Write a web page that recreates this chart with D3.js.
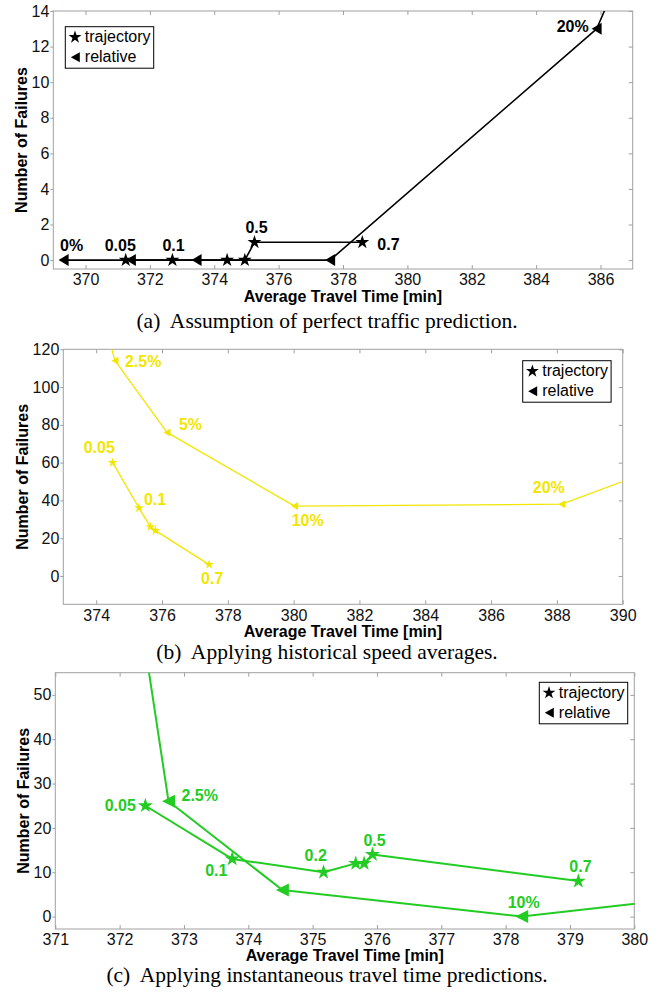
<!DOCTYPE html>
<html>
<head>
<meta charset="utf-8">
<script src="https://cdn.jsdelivr.net/npm/d3@7"></script>
<style>
  body { margin: 0; background: #fff; }
  text { font-family: "Liberation Sans", Arial, sans-serif; }
</style>
</head>
<body>
<div id="chart"></div>
<script>
(function() {

  // (a) perfect traffic prediction
  var aTrajX = [371.25, 372.7, 374.4, 374.95, 375.25, 378.6],
      aTrajY = [0, 0, 0, 0, 1, 1],
      aTrajLbl = ['0.05', '0.1', '', '', '0.5', '0.7'];
  var aRelX = [369.32, 371.41, 373.45, 377.6, 385.88, 386.6],
      aRelY = [0, 0, 0, 0, 13, 16],
      aRelLbl = ['0%', '', '', '', '20%', ''];
  var aXTicks = [370, 372, 374, 376, 378, 380, 382, 384, 386],
      aYTicks = [0, 2, 4, 6, 8, 10, 12, 14];

  // (b) historical speed averages
  var bTrajX = [374.5, 375.3, 375.65, 375.8, 377.43],
      bTrajY = [60, 36, 26, 24, 6],
      bTrajLbl = ['0.05', '0.1', '', '', '0.7'];
  var bRelX = [374.3, 374.57, 376.15, 380.03, 388.15, 392],
      bRelY = [131, 114, 76, 37, 38, 63],
      bRelLbl = ['', '2.5%', '5%', '10%', '20%', ''];
  var bXTicks = [374, 376, 378, 380, 382, 384, 386, 388, 390],
      bYTicks = [0, 20, 40, 60, 80, 100, 120];

  // (c) instantaneous travel time predictions
  var cTrajX = [372.4, 373.75, 375.17, 375.67, 375.8, 375.93, 379.13],
      cTrajY = [25, 13, 10, 12, 12, 14, 8],
      cTrajLbl = ['0.05', '0.1', '0.2', '', '', '0.5', '0.7'];
  var cRelX = [372.3, 372.76, 374.53, 378.25, 381],
      cRelY = [70, 26, 6, 0, 4.5],
      cRelLbl = ['', '2.5%', '', '10%', ''];
  var cXTicks = [371, 372, 373, 374, 375, 376, 377, 378, 379, 380],
      cYTicks = [0, 10, 20, 30, 40, 50];

  var legendNames = ['trajectory', 'relative'];

  var panels = [
    {
      id: 'a', l: 53.3, t: 11, r: 632.7, b: 269,
      xDom: [369, 387], yDom: [-0.5, 14], xTicks: aXTicks, yTicks: aYTicks,
      traj: zip(aTrajX, aTrajY, aTrajLbl), rel: zip(aRelX, aRelY, aRelLbl),
      color: '#000', lw: 1.6, starSize: 60, tri: [5, 6],
      lblPos: {'0%': [-3.6, -9], '0.05': [-21, -9], '0.1': [-10, -9], '0.5': [-9, -9],
               '0.7': [15, 7.7], '20%': [-40, 3]},
      legend: [65.3, 26.7], ylabX: 26.5, xlabY: 302,
      caption: '(a)  Assumption of perfect traffic prediction.', capY: 328
    },
    {
      id: 'b', l: 63.3, t: 349.3, r: 622.7, b: 604.3,
      xDom: [373, 390], yDom: [-15, 120], xTicks: bXTicks, yTicks: bYTicks,
      traj: zip(bTrajX, bTrajY, bTrajLbl), rel: zip(bRelX, bRelY, bRelLbl),
      color: '#f2e600', lw: 1.3, starSize: 30, tri: [3.5, 4],
      lblPos: {'2.5%': [10, 6], '5%': [12, -2], '10%': [-3, 20], '20%': [-29, -11],
               '0.05': [-29, -10], '0.1': [5, -3], '0.7': [-8, 19]},
      legend: [522.7, 360.7], ylabX: 28, xlabY: 637,
      caption: '(b)  Applying historical speed averages.', capY: 659
    },
    {
      id: 'c', l: 55.3, t: 672.7, r: 634.3, b: 929,
      xDom: [371, 380], yDom: [-2.8, 55], xTicks: cXTicks, yTicks: cYTicks,
      traj: zip(cTrajX, cTrajY, cTrajLbl), rel: zip(cRelX, cRelY, cRelLbl),
      color: '#22cc22', lw: 2, starSize: 70, tri: [6.5, 6.5],
      lblPos: {'2.5%': [13, 0], '0.05': [-40.7, 5], '0.1': [-27, 17], '0.2': [-19, -11],
               '0.5': [-9, -9], '0.7': [-9, -9], '10%': [-14, -8.5]},
      legend: [539.3, 682.3], ylabX: 29, xlabY: 961,
      caption: '(c)  Applying instantaneous travel time predictions.', capY: 982
    }
  ];

  var svg = d3.select('#chart')
    .append('svg')
    .attr('width', 670)
    .attr('height', 992)
    .style('background', '#fff');

  panels.forEach(draw);

  function zip(xs, ys, ls) {
    return xs.map(function(v, i) { return {x: v, y: ys[i], lbl: ls[i]}; });
  }

  // left pointing triangle, tip at (-a,0)
  function triPath(a, h) {
    return 'M' + (-a) + ',0L' + a + ',' + (-h) + 'L' + a + ',' + h + 'Z';
  }

  function draw(p) {
    var x = d3.scaleLinear().domain(p.xDom).range([p.l, p.r]),
        y = d3.scaleLinear().domain(p.yDom).range([p.b, p.t]);

    var g = svg.append('g').attr('id', 'panel-' + p.id);

    g.append('clipPath')
      .attr('id', 'clip-' + p.id)
      .append('rect')
      .attr('x', p.l).attr('y', p.t)
      .attr('width', p.r - p.l).attr('height', p.b - p.t);

    // axes: bottom/top/right ticks inward, left ticks outward
    var axes = [
      [d3.axisBottom(x).tickValues(p.xTicks).tickSize(-4).tickPadding(5), 'translate(0,' + p.b + ')'],
      [d3.axisTop(x).tickValues(p.xTicks).tickSize(-4).tickFormat(''), 'translate(0,' + p.t + ')'],
      [d3.axisLeft(y).tickValues(p.yTicks).tickSize(3).tickPadding(1), 'translate(' + p.l + ',0)'],
      [d3.axisRight(y).tickValues(p.yTicks).tickSize(-4).tickFormat(''), 'translate(' + p.r + ',0)']
    ];
    axes.forEach(function(a) {
      var ax = g.append('g').attr('transform', a[1]).call(a[0].tickSizeOuter(0));
      ax.select('.domain').remove();
      ax.selectAll('line').attr('stroke', '#a0a0a0');
      ax.selectAll('text')
        .style('font-family', '"Liberation Sans", Arial, sans-serif')
        .style('font-size', '16px')
        .attr('fill', '#111');
    });

    g.append('rect')
      .attr('x', p.l).attr('y', p.t)
      .attr('width', p.r - p.l).attr('height', p.b - p.t)
      .attr('fill', 'none')
      .attr('stroke', '#a0a0a0')
      .attr('stroke-width', 1);

    // series
    var line = d3.line().x(function(d) { return x(d.x); }).y(function(d) { return y(d.y); });
    var plot = g.append('g').attr('clip-path', 'url(#clip-' + p.id + ')');

    [p.rel, p.traj].forEach(function(s) {
      plot.append('path')
        .datum(s)
        .attr('d', line)
        .attr('fill', 'none')
        .attr('stroke', p.color)
        .attr('stroke-width', p.lw)
        .attr('stroke-linejoin', 'round');
    });

    plot.selectAll('.star')
      .data(p.traj)
      .enter().append('path')
      .attr('class', 'star')
      .attr('transform', function(d) { return 'translate(' + x(d.x) + ',' + y(d.y) + ')'; })
      .attr('d', d3.symbol().type(d3.symbolStar).size(p.starSize))
      .attr('fill', p.color);

    plot.selectAll('.tri')
      .data(p.rel)
      .enter().append('path')
      .attr('class', 'tri')
      .attr('transform', function(d) { return 'translate(' + x(d.x) + ',' + y(d.y) + ')'; })
      .attr('d', triPath(p.tri[0], p.tri[1]))
      .attr('fill', p.color);

    // point labels
    var labelled = p.traj.concat(p.rel).filter(function(d) { return d.lbl; });
    g.selectAll('.lbl')
      .data(labelled)
      .enter().append('text')
      .attr('class', 'lbl')
      .attr('x', function(d) { return x(d.x) + p.lblPos[d.lbl][0]; })
      .attr('y', function(d) { return y(d.y) + p.lblPos[d.lbl][1]; })
      .style('font-size', '16px')
      .style('font-weight', 'bold')
      .attr('fill', p.color)
      .text(function(d) { return d.lbl; });

    // legend
    var lg = g.append('g').attr('transform', 'translate(' + p.legend[0] + ',' + p.legend[1] + ')');
    lg.append('rect')
      .attr('width', 88.4).attr('height', 41.5)
      .attr('fill', '#fff').attr('stroke', '#000').attr('stroke-width', 1);
    lg.append('path')
      .attr('transform', 'translate(9.7,10.5)')
      .attr('d', d3.symbol().type(d3.symbolStar).size(52));
    lg.append('path')
      .attr('transform', 'translate(10,30.5)')
      .attr('d', triPath(4.5, 5));
    lg.selectAll('text')
      .data(legendNames)
      .enter().append('text')
      .attr('x', 19.5)
      .attr('y', function(d, i) { return 15.5 + i * 20; })
      .style('font-size', '16px')
      .text(function(d) { return d; });

    // axis titles
    g.append('text')
      .attr('x', (p.l + p.r) / 2)
      .attr('y', p.xlabY)
      .attr('text-anchor', 'middle')
      .style('font-size', '16px')
      .style('font-weight', 'bold')
      .text('Average Travel Time [min]');

    g.append('text')
      .attr('transform', 'translate(' + p.ylabX + ',' + ((p.t + p.b) / 2) + ') rotate(-90)')
      .attr('text-anchor', 'middle')
      .style('font-size', '16px')
      .style('font-weight', 'bold')
      .text('Number of Failures');

    svg.append('text')
      .attr('x', 327)
      .attr('y', p.capY)
      .attr('text-anchor', 'middle')
      .style('font-family', '"Liberation Serif", "Times New Roman", serif')
      .style('font-size', '21.5px')
      .style('white-space', 'pre')
      .text(p.caption);
  }

})();
</script>
</body>
</html>
